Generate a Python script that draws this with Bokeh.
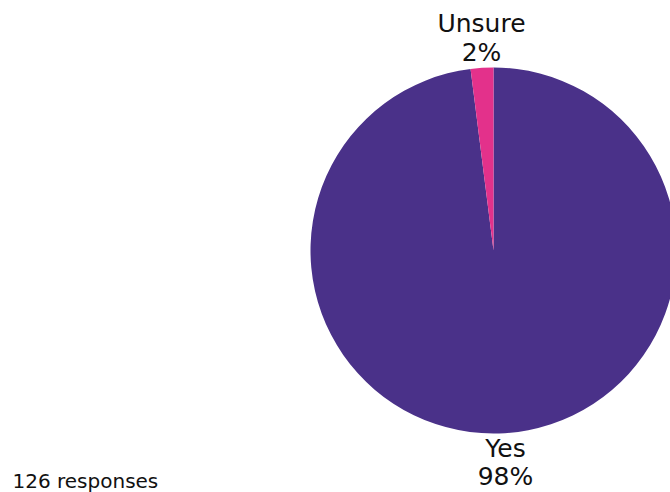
import math
from bokeh.plotting import figure
from bokeh.models import ColumnDataSource, Range1d
from bokeh.core.properties import value
from bokeh.embed import file_html
from bokeh.resources import INLINE

labels = ["Yes", "Unsure"]
percents = [98, 2]
colors = ["#4a3189", "#e3318b"]
responses = 126

W, H = 670, 492
cx, cy, r = 493, 242, 183
FONT = "DejaVu Sans"
FIX = 9  # baseline correction

total = sum(percents)
starts, ends, mids = [], [], []
a = math.pi / 2
for pct in reversed(percents):
    span = 2 * math.pi * pct / total
    starts.append(a)
    ends.append(a + span)
    mids.append(a + span / 2)
    a += span
starts.reverse(); ends.reverse(); mids.reverse()

src = ColumnDataSource(dict(x=[cx] * len(labels), y=[cy] * len(labels),
                            start=starts, end=ends, color=colors))

p = figure(width=W, height=H, x_range=Range1d(0, W), y_range=Range1d(0, H),
           output_backend="svg", toolbar_location=None, min_border=0)
p.axis.visible = False
p.grid.visible = False
p.outline_line_color = None
p.background_fill_color = "white"
p.border_fill_color = "white"

p.wedge(x="x", y="y", radius=r, start_angle="start", end_angle="end",
        fill_color="color", line_color=None, source=src)

lx, ly1, ly2 = [], [], []
for m in mids:
    x = cx + (r + 8) * math.cos(m)
    lx.append(x)
    if math.sin(m) > 0:
        top = cy + r + 6 + FIX
        ly2.append(top)
        ly1.append(top + 29)
    else:
        bot = cy - r - 24 + FIX
        ly1.append(bot)
        ly2.append(bot - 28)
pct_txt = [f"{v}%" for v in percents]
lsrc = ColumnDataSource(dict(x=lx, y1=ly1, y2=ly2, name=labels, pct=pct_txt))
p.text(x="x", y="y1", text="name", source=lsrc, text_font=value(FONT),
       text_font_size="25px", text_align="center", text_baseline="alphabetic",
       text_color="#111111")
p.text(x="x", y="y2", text="pct", source=lsrc, text_font=value(FONT),
       text_font_size="25px", text_align="center", text_baseline="alphabetic",
       text_color="#111111")

p.text(x=[12], y=[H - 489 + FIX], text=[f"{responses} responses"], text_font=value(FONT),
       text_font_size="20px", text_align="left", text_baseline="alphabetic",
       text_color="#111111")

open("out.html", "w").write(file_html(p, INLINE))
